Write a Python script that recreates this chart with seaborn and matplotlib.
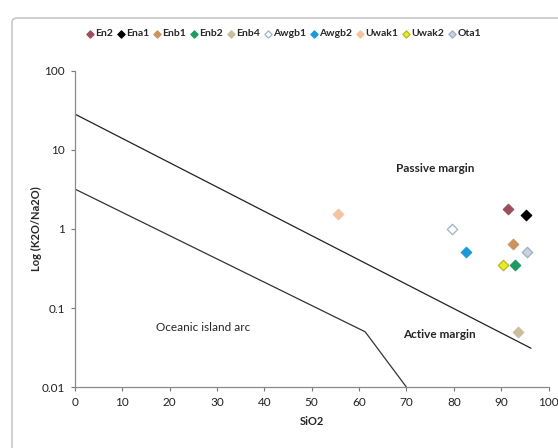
import numpy as np
import pandas as pd
import seaborn as sns
import matplotlib.pyplot as plt
from matplotlib.patches import FancyBboxPatch

# sample data
samples = ["En2", "Ena1", "Enb1", "Enb2", "Enb4", "Awgb1", "Awgb2", "Uwak1", "Uwak2", "Ota1"]
sio2 = [91.5, 95.2, 92.6, 92.9, 93.5, 79.6, 82.5, 55.6, 90.3, 95.4]
k2o_na2o = [1.79, 1.51, 0.64, 0.345, 0.049, 1.0, 0.51, 1.55, 0.345, 0.51]
face_colors = ["#9c4f5e", "#000000", "#cc9360", "#1f9a62", "#c9bd9c", "#ffffff",
               "#1c9ad8", "#f5c3a0", "#eaea2a", "#c9d1e2"]
edge_colors = ["#9c4f5e", "#000000", "#cc9360", "#1f9a62", "#c9bd9c", "#9fb3c9",
               "#1c9ad8", "#f5c3a0", "#b8b820", "#a3adc0"]

# discrimination field boundaries
upper_x = [0, 96.3]
upper_y = [28.4, 0.031]
lower_x = [0, 61.3, 70]
lower_y = [3.2, 0.05, 0.01]

df = pd.DataFrame({"sample": samples, "SiO2": sio2, "ratio": k2o_na2o})

sns.set_style("white")
plt.rcParams['font.family'] = ['Lato', 'DejaVu Sans']

fig = plt.figure(figsize=(5.58, 4.48), dpi=100)
ax = fig.add_axes([0.134, 0.136, 0.849, 0.706])

# excel style chart frame
frame = FancyBboxPatch((12 / 558, -0.02), 1.0, 1 - 18 / 448 + 0.02,
                       boxstyle="round,pad=0,rounding_size=0.01",
                       transform=fig.transFigure, facecolor="none",
                       edgecolor="#c8c8c8", linewidth=1.2, clip_on=False)
fig.patches.append(frame)

ax.plot(upper_x, upper_y, color="#222222", linewidth=0.9)
ax.plot(lower_x, lower_y, color="#333333", linewidth=0.9)

for i, row in df.iterrows():
    sns.scatterplot(x=[row["SiO2"]], y=[row["ratio"]], marker="D", s=28,
                    color=face_colors[i], edgecolor=edge_colors[i], linewidth=0.9,
                    label=row["sample"], ax=ax, zorder=3)

ax.set_yscale("log")
ax.set_xlim(0, 100)
ax.set_ylim(0.01, 100)
ax.set_xticks(np.arange(0, 101, 10))
ax.set_yticks([0.01, 0.1, 1, 10, 100])
ax.set_yticklabels(["0.01", "0.1", "1", "10", "100"])
ax.minorticks_off()
ax.tick_params(axis="both", labelsize=8.5, colors="#777777", length=3, direction="out",
               left=True, bottom=True, pad=4)
ax.tick_params(axis="both", labelcolor="#222222")

for side in ["top", "right"]:
    ax.spines[side].set_visible(False)
for side in ["left", "bottom"]:
    ax.spines[side].set_color("#8a8a8a")
    ax.spines[side].set_linewidth(0.9)

ax.set_xlabel("SiO2", fontsize=8, fontweight="bold", labelpad=6)
ax.set_ylabel("Log (K2O/Na2O)", fontsize=8, fontweight="bold", labelpad=0)

ax.text(76, 5.8, "Passive margin", fontsize=8.5, fontweight="bold", ha="center", va="center")
ax.text(77, 0.046, "Active margin", fontsize=8.5, fontweight="bold", ha="center", va="center")
ax.text(27, 0.056, "Oceanic island arc", fontsize=8.5, ha="center", va="center")

leg = ax.legend(loc="center", bbox_to_anchor=(0.44, 1.117), ncol=10, frameon=False,
                fontsize=7.5, handletextpad=0.05, columnspacing=0.3, handlelength=0.9,
                markerscale=0.7)
for t in leg.get_texts():
    t.set_fontweight("bold")

plt.savefig("out.png", dpi=100)
